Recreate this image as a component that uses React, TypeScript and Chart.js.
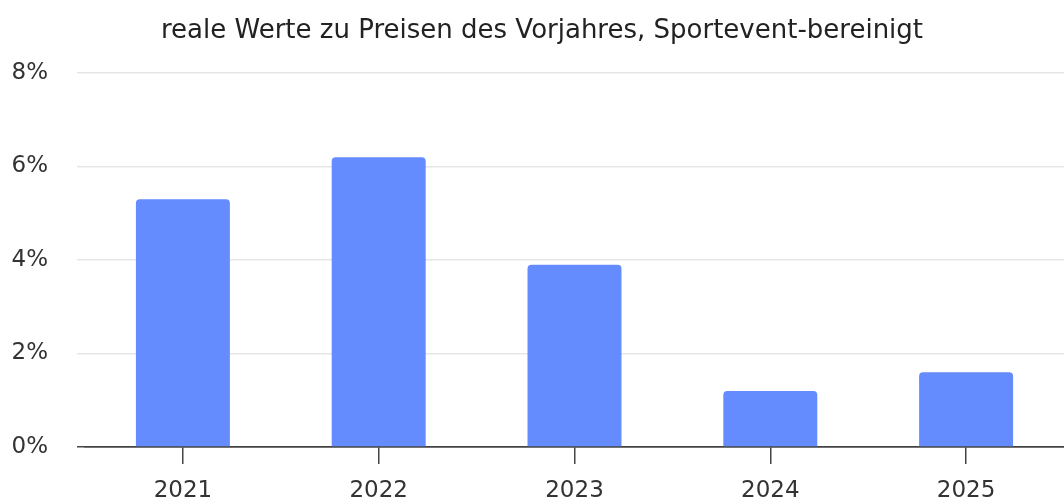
import React, { useEffect, useRef } from "react";
import { Chart, registerables } from "chart.js";

Chart.register(...registerables);

const categories = ["2021", "2022", "2023", "2024", "2025"];
const values = [5.3, 6.2, 3.9, 1.2, 1.6];
const yTicks = [0, 2, 4, 6, 8];
const titleText = "reale Werte zu Preisen des Vorjahres, Sportevent-bereinigt";

const FONT = "'DejaVu Sans', sans-serif";

const titlePlugin = {
  id: "offsetTitle",
  afterDraw(chart: any) {
    const ctx = chart.ctx;
    ctx.save();
    ctx.font = `normal 26px ${FONT}`;
    ctx.fillStyle = "#222";
    ctx.textAlign = "center";
    ctx.textBaseline = "alphabetic";
    ctx.fillText(titleText, 542, 38);
    ctx.restore();
  },
};

export default function App() {
  const ref = useRef<HTMLCanvasElement | null>(null);

  useEffect(() => {
    if (!ref.current) return;
    const chart = new Chart(ref.current, {
      type: "bar",
      data: {
        labels: categories,
        datasets: [
          {
            data: values,
            backgroundColor: "#648cff",
            borderRadius: 4,
            categoryPercentage: 0.8,
            barPercentage: 0.6,
          },
        ],
      },
      plugins: [titlePlugin],
      options: {
        animation: false,
        responsive: false,
        layout: { padding: { left: 0, right: 18, top: 73, bottom: 0 } },
        plugins: {
          legend: { display: false },
          tooltip: { enabled: false },
          title: { display: false },
        },
        scales: {
          x: {
            afterFit: (scale: any) => {
              scale.height = 65;
            },
            grid: {
              offset: false,
              drawOnChartArea: false,
              drawTicks: true,
              tickLength: 17,
              color: "#444",
              lineWidth: 1.5,
            },
            border: { display: true, color: "#444", width: 1.5 },
            ticks: {
              color: "#333",
              font: { family: FONT, size: 23 },
              padding: 13,
            },
          },
          y: {
            min: 0,
            max: 8,
            afterFit: (scale: any) => {
              scale.width = 85;
            },
            afterBuildTicks: (axis: any) => {
              axis.ticks = yTicks.map((v) => ({ value: v }));
            },
            grid: {
              color: (ctx: any) => (ctx.tick && ctx.tick.value === 0 ? "#444" : "#e6e6e6"),
              lineWidth: 1.5,
              tickLength: 8,
            },
            border: { display: false },
            ticks: {
              color: "#333",
              font: { family: FONT, size: 23 },
              padding: 29,
              callback: (v: any) => `${v}%`,
            },
          },
        },
      },
    });
    return () => chart.destroy();
  }, []);

  return (
    <div
      style={{
        position: "absolute",
        left: 0,
        top: 0,
        width: 1064,
        height: 501,
        overflow: "hidden",
        background: "#fff",
      }}
    >
      <canvas ref={ref} width={1082} height={512} style={{ display: "block" }} />
    </div>
  );
}
